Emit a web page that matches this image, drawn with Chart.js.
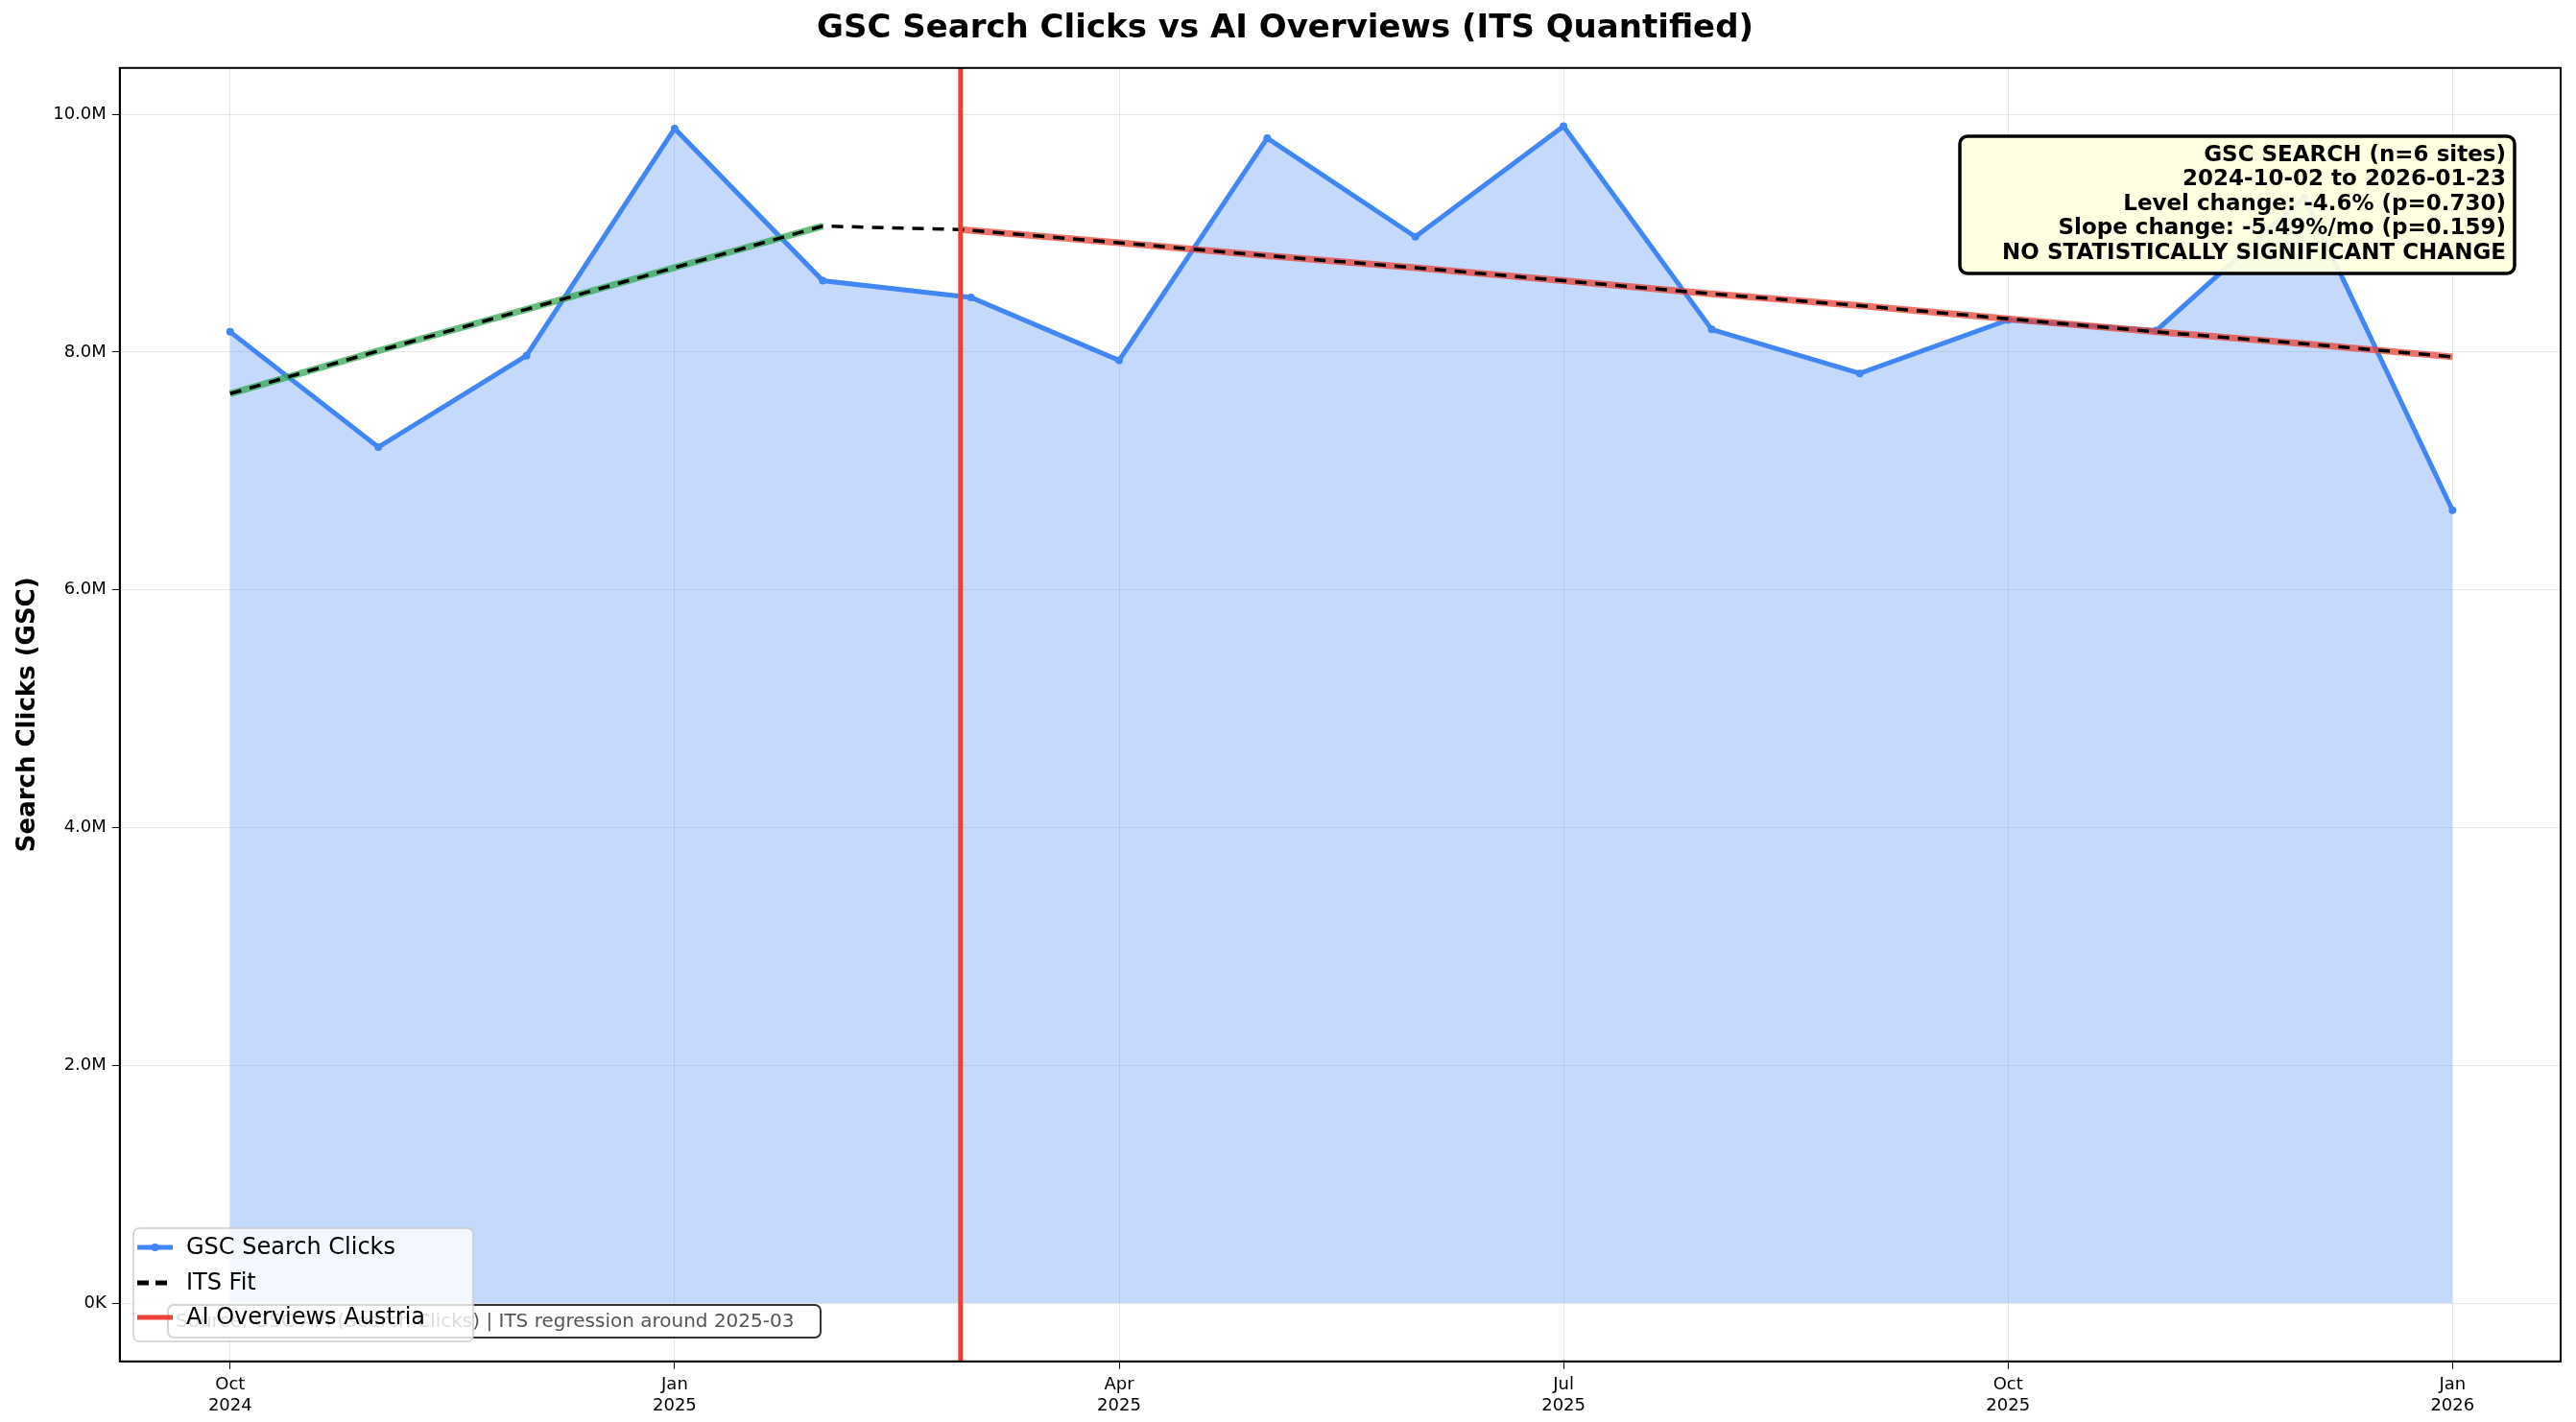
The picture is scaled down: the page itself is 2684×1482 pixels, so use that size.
<!DOCTYPE html>
<html><head><meta charset="utf-8">
<script src="https://cdn.jsdelivr.net/npm/chart.js@4"></script>
<style>html,body{margin:0;padding:0;background:#fff}#w{width:2684px;height:1482px}</style>
</head><body><div id="w"><canvas id="c" width="2684" height="1482"></canvas></div>
<script>
const monthIdx = [0,1,2,3,4,5,6,7,8,9,10,11,12,13,14,15];
const clicks = [8.17,7.20,7.97,9.88,8.60,8.46,7.93,9.80,8.97,9.90,8.19,7.82,8.27,8.18,9.30,6.67];
const preFitX = [0,1,2,3,4];
const preFit = [7.65,8.01,8.36,8.71,9.06];
const postFitX = [4.93,6,7,8,9,10,11,12,13,14,15];
const postFit = [9.03,8.92,8.81,8.71,8.60,8.49,8.39,8.28,8.17,8.07,7.96];
const interventionX = 4.93;
const tickPos = [0,3,6,9,12,15];
const tickLabels = [["Oct","2024"],["Jan","2025"],["Apr","2025"],["Jul","2025"],["Oct","2025"],["Jan","2026"]];
const boxLines = ["GSC SEARCH (n=6 sites)","2024-10-02 to 2026-01-23","Level change: -4.6% (p=0.730)","Slope change: -5.49%/mo (p=0.159)","NO STATISTICALLY SIGNIFICANT CHANGE"];
const footer = "Source: GSC API (Search Clicks) | ITS regression around 2025-03";
const F = "'DejaVu Sans', sans-serif";
const toXY = (xs, ys) => xs.map((x,i)=>({x, y: ys[i]}));
const fitAll = toXY(preFitX.concat(postFitX), preFit.concat(postFit));

function rr(ctx,x,y,w,h,r){ctx.beginPath();ctx.moveTo(x+r,y);ctx.arcTo(x+w,y,x+w,y+h,r);ctx.arcTo(x+w,y+h,x,y+h,r);ctx.arcTo(x,y+h,x,y,r);ctx.arcTo(x,y,x+w,y,r);ctx.closePath();}

const deco = {
  id:'deco',
  afterDatasetsDraw(chart){
    const {ctx, chartArea:a, scales:{x}} = chart;
    ctx.save();
    const px = x.getPixelForValue(interventionX);
    ctx.strokeStyle='#EA4335'; ctx.lineWidth=5;
    ctx.beginPath(); ctx.moveTo(px,a.top); ctx.lineTo(px,a.bottom); ctx.stroke();
    // frame
    ctx.strokeStyle='#000'; ctx.lineWidth=2; ctx.strokeRect(a.left,a.top,a.right-a.left,a.bottom-a.top);
    // stats box
    ctx.font='bold 23px '+F; ctx.textAlign='right'; ctx.textBaseline='middle';
    const bw = 578, bh=143, bx=2042, by=142;
    rr(ctx,bx,by,bw,bh,8); ctx.fillStyle='rgba(255,255,224,0.92)'; ctx.fill(); ctx.lineWidth=3.5; ctx.strokeStyle='#000'; ctx.stroke();
    ctx.fillStyle='#000';
    boxLines.forEach((t,i)=>ctx.fillText(t, bx+bw-9, by+20+i*25.5));
    // footer
    ctx.font='20px '+F; ctx.textAlign='left';
    rr(ctx,175,1360,680,34,6); ctx.fillStyle='#fff'; ctx.fill(); ctx.lineWidth=2; ctx.strokeStyle='#333'; ctx.stroke();
    ctx.fillStyle='#555'; ctx.fillText(footer,183,1378);
    // legend
    rr(ctx,139,1280,354,118,6); ctx.fillStyle='rgba(255,255,255,0.8)'; ctx.fill(); ctx.lineWidth=1.5; ctx.strokeStyle='#ccc'; ctx.stroke();
    ctx.font='24px '+F; ctx.fillStyle='#000';
    const lx=143, lw=37;
    ctx.strokeStyle='#4285F4'; ctx.lineWidth=5; ctx.beginPath(); ctx.moveTo(lx,1300); ctx.lineTo(lx+lw,1300); ctx.stroke();
    ctx.fillStyle='#4285F4'; ctx.beginPath(); ctx.arc(lx+lw/2,1300,4,0,7); ctx.fill();
    ctx.strokeStyle='#000'; ctx.setLineDash([12,7]); ctx.beginPath(); ctx.moveTo(lx,1337); ctx.lineTo(lx+lw,1337); ctx.stroke(); ctx.setLineDash([]);
    ctx.strokeStyle='#EA4335'; ctx.beginPath(); ctx.moveTo(lx,1373); ctx.lineTo(lx+lw,1373); ctx.stroke();
    ctx.fillStyle='#000';
    ctx.fillText('GSC Search Clicks',lx+51,1301); ctx.fillText('ITS Fit',lx+51,1338); ctx.fillText('AI Overviews Austria',lx+51,1374);
    ctx.restore();
  }
};

new Chart(document.getElementById('c'), {
  type:'scatter',
  data:{datasets:[
    {data:toXY(monthIdx,clicks), showLine:true, borderColor:'#4285F4', borderWidth:5, pointRadius:4, pointBackgroundColor:'#4285F4', pointBorderWidth:0, fill:'origin', backgroundColor:'rgba(66,133,244,0.31)', order:3},
    {data:toXY(preFitX,preFit), showLine:true, borderColor:'rgba(52,168,83,0.75)', borderWidth:7, pointRadius:0, order:2},
    {data:toXY(postFitX,postFit), showLine:true, borderColor:'rgba(234,67,53,0.75)', borderWidth:7, pointRadius:0, order:2},
    {data:fitAll, showLine:true, borderColor:'#000', borderWidth:3.5, borderDash:[12,9], pointRadius:0, order:1}
  ]},
  options:{
    responsive:false, devicePixelRatio:1, animation:false,
    layout:{padding:{left:10,right:16,top:0,bottom:0}},
    plugins:{legend:{display:false}, tooltip:{enabled:false},
      title:{display:true, text:'GSC Search Clicks vs AI Overviews (ITS Quantified)', font:{family:F,size:34,weight:'bold'}, color:'#000', padding:{top:10,bottom:20}}},
    scales:{
      x:{type:'linear', min:-0.745, max:15.73, afterBuildTicks(ax){ax.ticks=tickPos.map(v=>({value:v}));},
        ticks:{callback:(v)=>tickLabels[tickPos.indexOf(v)], color:'#000', font:{family:F,size:18}, maxRotation:0, padding:6},
        grid:{color:'rgba(0,0,0,0.09)', tickLength:8, tickColor:'#000'}, border:{color:'#000',width:2}},
      y:{min:-0.49, max:10.39, afterBuildTicks(ax){ax.ticks=[0,2,4,6,8,10].map(v=>({value:v}));},
        ticks:{callback:(v)=>v===0?'0K':v.toFixed(1)+'M', color:'#000', font:{family:F,size:18}, padding:6},
        title:{display:true, text:'Search Clicks (GSC)', font:{family:F,size:26,weight:'bold'}, color:'#000'},
        grid:{color:'rgba(0,0,0,0.09)', tickLength:8, tickColor:'#000'}, border:{color:'#000',width:2}}
    }
  },
  plugins:[deco]
});
</script></body></html>
